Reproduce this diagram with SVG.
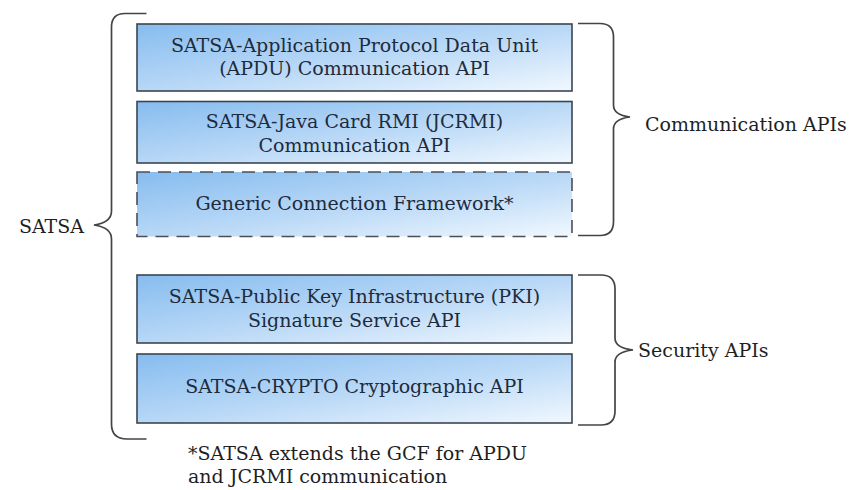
<svg xmlns="http://www.w3.org/2000/svg" width="855" height="490" viewBox="0 0 855 490">
<style>
.box{fill:url(#g);stroke:#3b4552;stroke-width:1.6}
.dash{fill:url(#g);stroke:#4a4f56;stroke-width:1.6;stroke-dasharray:13 8}
.t{font-family:'DejaVu Serif','Liberation Serif',serif;font-size:19px;fill:#1e2b3c;text-anchor:middle}
.l{font-family:'DejaVu Serif','Liberation Serif',serif;font-size:19px;fill:#1f1f1f}
.br{fill:none;stroke:#444;stroke-width:1.7}
</style>
<defs>
<linearGradient id="g" x1="0" y1="0" x2="1" y2="1">
<stop offset="0" stop-color="#86bcef"/>
<stop offset="0.55" stop-color="#bcdaf7"/>
<stop offset="1" stop-color="#f1f8fe"/>
</linearGradient>
</defs>
<rect width="855" height="490" fill="#ffffff"/>
<g id="apdu">
<rect class="box" x="137" y="24" width="435" height="67"/>
<text class="t" x="354.5" y="51.5">SATSA-Application Protocol Data Unit</text>
<text class="t" x="354.5" y="75">(APDU) Communication API</text>
</g>
<g id="jcrmi">
<rect class="box" x="137" y="101.5" width="435" height="61.5"/>
<text class="t" x="354.5" y="128">SATSA-Java Card RMI (JCRMI)</text>
<text class="t" x="354.5" y="151.5">Communication API</text>
</g>
<g id="gcf">
<rect class="dash" x="137" y="172" width="435" height="64.5"/>
<text class="t" x="354.5" y="210">Generic Connection Framework*</text>
</g>
<g id="pki">
<rect class="box" x="137" y="275" width="435" height="68"/>
<text class="t" x="354.5" y="303">SATSA-Public Key Infrastructure (PKI)</text>
<text class="t" x="354.5" y="326.5">Signature Service API</text>
</g>
<g id="crypto">
<rect class="box" x="137" y="354" width="435" height="69"/>
<text class="t" x="354.5" y="393">SATSA-CRYPTO Cryptographic API</text>
</g>
<g id="connectors">
<path class="br" d="M146.5,13.5 H125 Q111.5,13.5 111.5,27 V211 Q111.5,222.5 94,225 Q111.5,227.5 111.5,239 V424 Q111.5,439 127,439 H146.5"/>
<path class="br" d="M578,23.5 H600 Q613.5,23.5 613.5,37 V105 Q613.5,115 630,117 Q613.5,119 613.5,129 V221.5 Q613.5,235.5 600,235.5 H578"/>
<path class="br" d="M578,275 H601 Q615,275 615,289 V338 Q615,348 633,350 Q615,352 615,362 V411 Q615,425 601,425 H578"/>
</g>
<g id="satsa">
<text class="l" x="84" y="233" text-anchor="end">SATSA</text>
</g>
<g id="comm-label">
<text class="l" x="645" y="131">Communication APIs</text>
</g>
<g id="sec-label">
<text class="l" x="638" y="357">Security APIs</text>
</g>
<g id="footnote">
<text class="l" x="188" y="460">*SATSA extends the GCF for APDU</text>
<text class="l" x="188" y="483">and JCRMI communication</text>
</g>
</svg>
